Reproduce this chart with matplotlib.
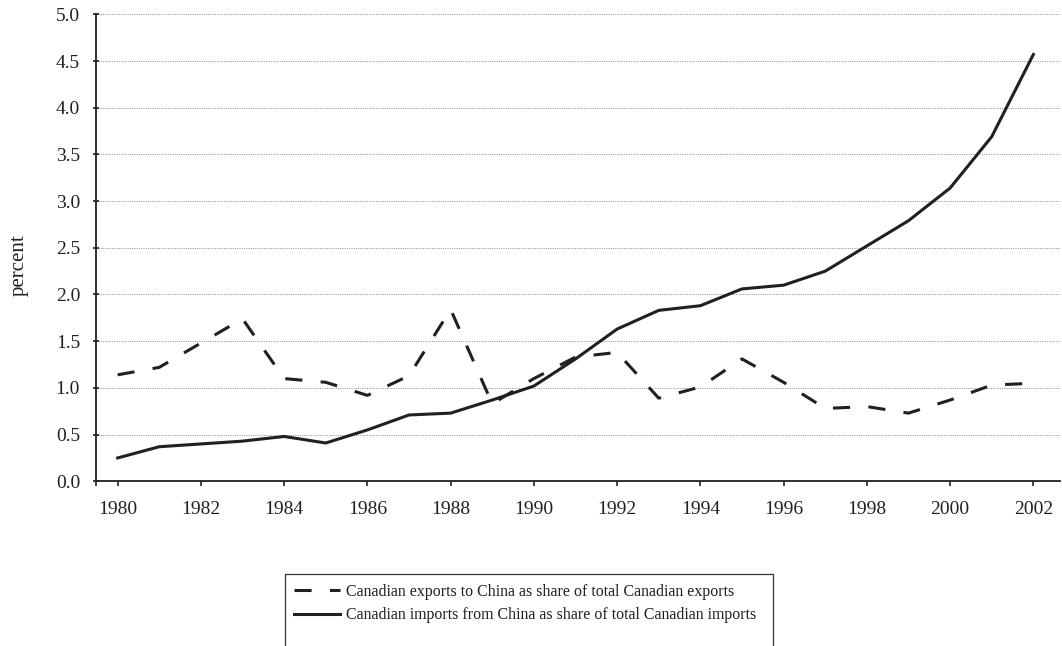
import matplotlib.pyplot as plt
from matplotlib.patches import Rectangle
import numpy as np

plt.rcParams.update({
    'font.family': 'serif',
    'font.serif': ['Liberation Serif', 'DejaVu Serif'],
    'font.size': 14,
})

# --- Data ---
years = np.arange(1980, 2003)
exports_share = [1.14, 1.22, 1.48, 1.74, 1.10, 1.06, 0.92, 1.13, 1.84, 0.83,
                 1.10, 1.33, 1.38, 0.89, 1.01, 1.31, 1.06, 0.78, 0.80, 0.73,
                 0.87, 1.03, 1.05]
imports_share = [0.25, 0.37, 0.40, 0.43, 0.48, 0.41, 0.55, 0.71, 0.73, 0.87,
                 1.02, 1.31, 1.63, 1.83, 1.88, 2.06, 2.10, 2.25, 2.52, 2.79,
                 3.14, 3.69, 4.57]
tick_years = np.arange(1980, 2003, 2)
y_ticks = np.arange(0, 5.01, 0.5)

ink = '#231f20'

fig = plt.figure(figsize=(10.62, 6.46), dpi=100)
ax = fig.add_axes([96 / 1062, 1 - 481.3 / 646, 964 / 1062, 467 / 646])

ax.plot(years, exports_share, color=ink, lw=2.2, dashes=(5.6, 6.0),
        label='Canadian exports to China as share of total Canadian exports')
ax.plot(years, imports_share, color=ink, lw=2.2,
        label='Canadian imports from China as share of total Canadian imports')

# axes limits and ticks
x_left, x_right = 1979.48, 2002.64
ax.set_xlim(x_left, x_right)
ax.set_ylim(0, 5.0)
ax.set_xticks(tick_years)
ax.set_xticks([x_left], minor=True)
ax.set_yticks(y_ticks)
ax.set_yticklabels([f'{v:.1f}' for v in y_ticks])

ax.yaxis.grid(True, linestyle=(0, (1, 1.3)), color='#8a8a8a', lw=0.7)
ax.set_axisbelow(True)
for side in ['top', 'right']:
    ax.spines[side].set_visible(False)
for side in ['left', 'bottom']:
    ax.spines[side].set_linewidth(1.3)
    ax.spines[side].set_color(ink)

ax.tick_params(axis='x', which='both', direction='out', length=3.4, width=1.2,
               pad=11, color=ink, labelsize=14, labelcolor=ink)
ax.tick_params(axis='y', direction='inout', length=5, width=1.2, pad=9,
               color=ink, labelsize=14, labelcolor=ink)

ax.set_ylabel('percent', fontsize=15, color=ink)
ax.yaxis.set_label_coords(-0.070, 0.4635)

# legend box (cropped at the bottom of the figure in the reference)
fig.patches.append(Rectangle((285 / 1062, -0.05), (773 - 285) / 1062,
                             1 - 574 / 646 + 0.05, transform=fig.transFigure,
                             fill=False, edgecolor='#333333', lw=0.9))
leg = fig.legend(loc='upper left', bbox_to_anchor=(294 / 1062, 1 - 584 / 646),
                 frameon=False, fontsize=11.4, handlelength=2.9,
                 handletextpad=0.4, labelspacing=0.45, borderpad=0.0,
                 borderaxespad=0.0)
for txt in leg.get_texts():
    txt.set_color(ink)

fig.savefig('out.png', dpi=100)
